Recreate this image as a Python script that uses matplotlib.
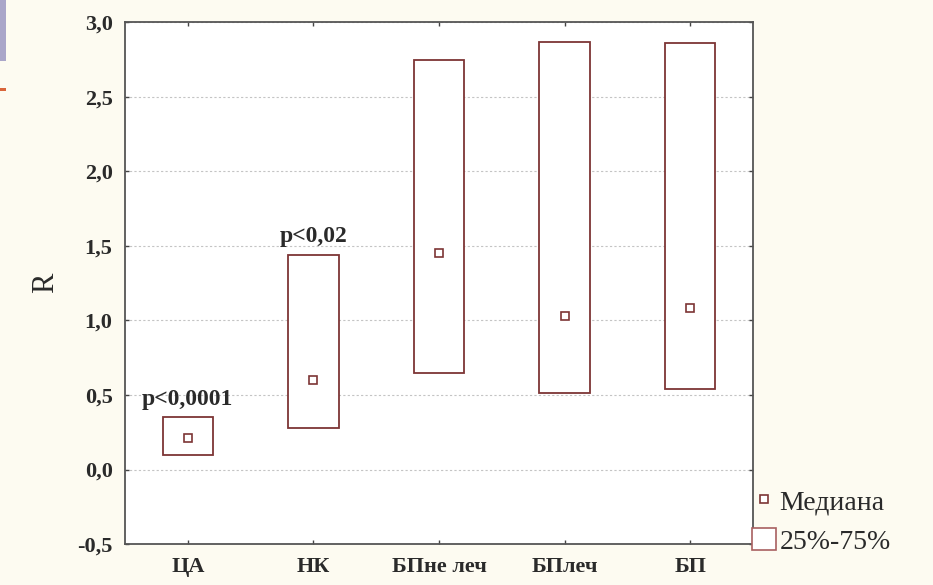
import matplotlib
matplotlib.use("Agg")
import matplotlib.pyplot as plt
from matplotlib.patches import Rectangle, Patch
from matplotlib.lines import Line2D

# Data: interquartile ranges and medians of R by group
groups = ["ЦА", "НК", "БПне леч", "БПлеч", "БП"]
q25 = [0.10, 0.28, 0.65, 0.51, 0.54]
q75 = [0.35, 1.44, 2.75, 2.87, 2.86]
medians = [0.21, 0.60, 1.45, 1.03, 1.08]
p_labels = ["p<0,0001", "p<0,02", "", "", ""]
yticks = [-0.5, 0.0, 0.5, 1.0, 1.5, 2.0, 2.5, 3.0]
ytick_labels = ["-0,5", "0,0", "0,5", "1,0", "1,5", "2,0", "2,5", "3,0"]

plt.rcParams["font.family"] = ["Liberation Serif", "DejaVu Serif"]

bg = "#fdfbf1"
edge = "#7d3535"
txt = "#2a2a2a"
fig = plt.figure(figsize=(9.33, 5.85), dpi=100, facecolor=bg)
ax = fig.add_axes([0.134, 0.070, 0.673, 0.892])
ax.set_facecolor("white")

# slide decoration on the left edge
fig.patches.append(Rectangle((0, 0.895), 0.006, 0.105, transform=fig.transFigure,
                             facecolor="#aaa6c9", edgecolor="none"))
fig.patches.append(Rectangle((0, 0.845), 0.006, 0.004, transform=fig.transFigure,
                             facecolor="#d9653a", edgecolor="none"))

xs = list(range(1, len(groups) + 1))
width = 0.4
for x, lo, hi, med, p in zip(xs, q25, q75, medians, p_labels):
    ax.add_patch(Rectangle((x - width / 2, lo), width, hi - lo, facecolor="white",
                           edgecolor=edge, linewidth=1.3, zorder=3))
    if p:
        ax.text(x, hi + 0.12, p, ha="center", va="center", fontsize=17,
                fontweight="bold", color=txt, zorder=4)
ax.plot(xs, medians, linestyle="none", marker="s", markersize=6,
        markerfacecolor="white", markeredgecolor=edge, markeredgewidth=1.2, zorder=4)

ax.set_xlim(0.5, len(groups) + 0.5)
ax.set_ylim(-0.5, 3.0)
ax.set_yticks(yticks)
ax.set_yticklabels(ytick_labels, fontsize=16, fontweight="bold", color=txt)
ax.set_xticks(xs)
ax.set_xticklabels(groups, fontsize=16, fontweight="bold", color=txt)
ax.tick_params(direction="in", length=3, width=1, colors="#444444",
               top=True, right=True, pad=9)
for lab in ax.get_xticklabels() + ax.get_yticklabels():
    lab.set_color(txt)
ax.yaxis.grid(True, linestyle=(0, (2, 2)), color="#c4c4c4", linewidth=0.8)
ax.set_axisbelow(True)
for s in ax.spines.values():
    s.set_color("#555555")
    s.set_linewidth(1.3)

ax.set_ylabel("R", fontsize=22, color=txt, labelpad=12)

handles = [
    Line2D([], [], linestyle="none", marker="s", markersize=6,
           markerfacecolor="white", markeredgecolor=edge, markeredgewidth=1.2),
    Patch(facecolor="white", edgecolor="#a86060", linewidth=1.2),
]
fig.legend(handles, ["Медиана", "25%-75%"], loc="lower left",
           bbox_to_anchor=(0.794, 0.033), frameon=False, fontsize=20,
           handlelength=0.85, handleheight=0.85, handletextpad=0.15,
           labelspacing=0.45, labelcolor=txt, borderaxespad=0)

fig.savefig("out.png", dpi=100, facecolor=bg)
